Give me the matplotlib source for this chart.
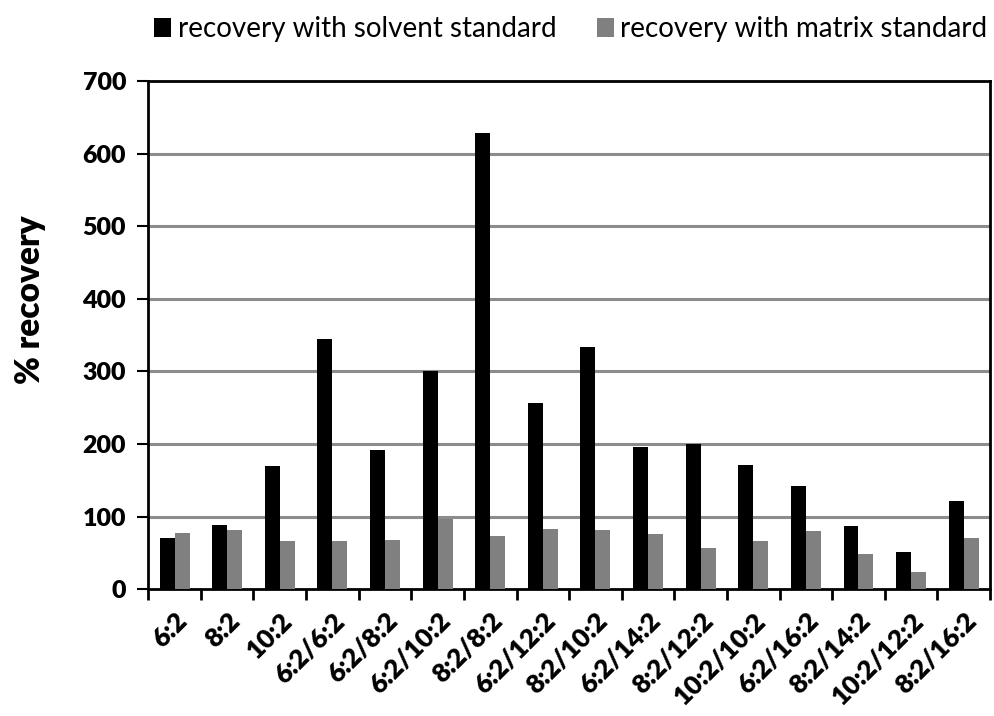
import matplotlib.pyplot as plt
import numpy as np

categories = ['6:2', '8:2', '10:2', '6:2/6:2', '6:2/8:2', '6:2/10:2', '8:2/8:2',
              '6:2/12:2', '8:2/10:2', '6:2/14:2', '8:2/12:2', '10:2/10:2',
              '6:2/16:2', '8:2/14:2', '10:2/12:2', '8:2/16:2']
solvent = [71, 88, 170, 344, 192, 301, 628, 256, 334, 196, 200, 171, 142, 87, 51, 122]
matrix = [78, 82, 67, 66, 68, 97, 74, 83, 81, 76, 57, 67, 80, 48, 24, 70]

plt.rcParams['font.family'] = ['Lato', 'DejaVu Sans']

fig = plt.figure(figsize=(9.95, 7.16), dpi=100)
ax = fig.add_axes([0.149, 0.177, 0.846, 0.710])

x = np.arange(len(categories))
w = 0.285
ax.bar(x - w/2, solvent, w, color='black', label='recovery with solvent standard', zorder=3)
ax.bar(x + w/2, matrix, w, color='#808080', label='recovery with matrix standard', zorder=3)

ax.set_xlim(-0.5, len(categories) - 0.5)
ax.set_ylim(0, 700)
ax.set_yticks(np.arange(0, 701, 100))
ax.yaxis.grid(True, color='#8c8c8c', linewidth=2.2, zorder=0)
# no grid on the baseline or the top border
gl = ax.get_ygridlines()
gl[0].set_visible(False)
gl[-1].set_visible(False)

ax.set_xticks(x)
ax.set_xticklabels(categories, rotation=45, ha='right', rotation_mode='anchor',
                   fontsize=19, fontweight='heavy')
ax.set_xticks(np.arange(-0.5, len(categories), 1), minor=True)
ax.tick_params(axis='x', which='major', length=0, pad=14)
ax.tick_params(axis='x', which='minor', length=8, width=2, direction='out')
ax.tick_params(axis='y', length=8, width=1.5, labelsize=18, pad=8)
for lab in ax.get_yticklabels():
    lab.set_fontweight('heavy')

for s in ax.spines.values():
    s.set_linewidth(2)
    s.set_color('black')

ax.set_ylabel('% recovery', fontsize=24, fontweight='heavy')
ax.yaxis.set_label_coords(-0.121, 0.57)

fig.legend(loc='upper left', bbox_to_anchor=(0.13, 1.012), ncol=2, frameon=False,
           fontsize=20, handlelength=0.6, handleheight=0.7, handletextpad=0.25,
           columnspacing=1.45)

fig.savefig('out.png', dpi=100)
